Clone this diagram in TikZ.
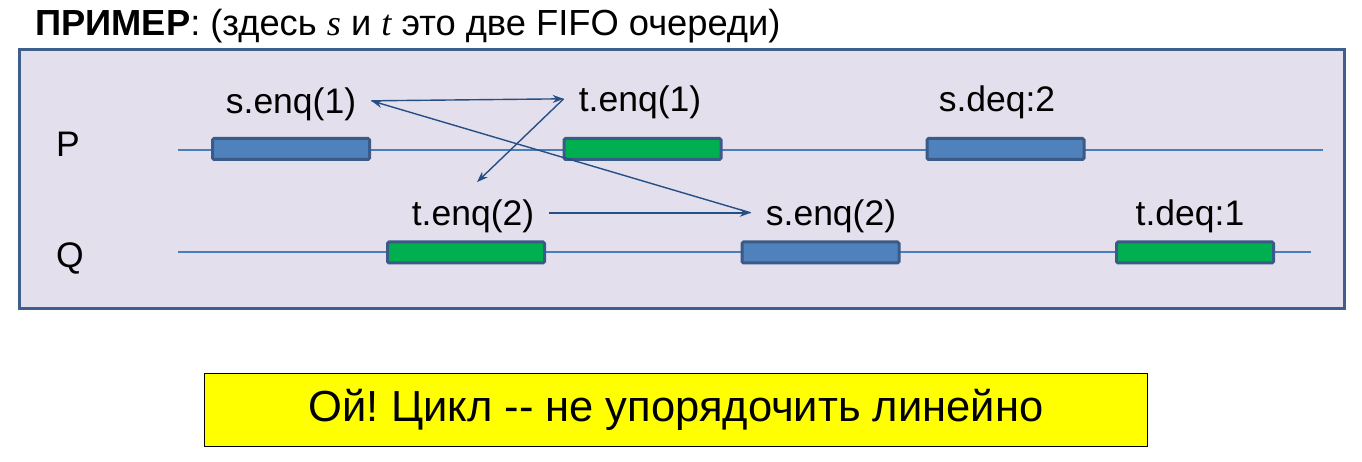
\documentclass[tikz,border=0pt]{standalone}
\usepackage{fontspec}
\setmainfont{Liberation Sans}
\newfontfamily\nolig{Liberation Sans}
\newfontfamily\varserif{Liberation Serif}
\usetikzlibrary{arrows.meta}
\definecolor{framefill}{HTML}{E4DFEC}
\definecolor{frameborder}{HTML}{3E5F8A}
\definecolor{tline}{HTML}{4A7EBB}
\definecolor{barborder}{HTML}{3A5A87}
\definecolor{barblue}{HTML}{4F81BD}
\definecolor{bargreen}{HTML}{00B050}
\definecolor{arrcol}{HTML}{254F85}
\definecolor{yel}{HTML}{FFFF00}
\frenchspacing
\begin{document}
\begin{tikzpicture}[x=1pt,y=-1pt,
  lbl/.style={anchor=base,font=\fontsize{35.5}{40}\selectfont,inner xsep=15pt,inner ysep=2pt},
  proc/.style={anchor=base,font=\fontsize{35.5}{40}\selectfont},
  bar/.style={draw=barborder,line width=3pt,rounded corners=1.5pt,minimum width=157pt,minimum height=21pt,inner sep=0pt},
  bluebar/.style={bar,fill=barblue},
  greenbar/.style={bar,fill=bargreen},
  tl/.style={draw=tline,line width=1.3pt},
  arr/.style={draw=arrcol,line width=1.4pt,-{Stealth[length=11pt,width=8pt]}}
]
\useasboundingbox (0,0) rectangle (1362,462);
\fill[white] (0,0) rectangle (1362,462);
% title
\node[anchor=base west,inner sep=0pt,font=\fontsize{36.3}{40}\selectfont] (title) at (35,36)
  {\textbf{ПРИМЕР}: (здесь {\varserif\itshape s} и {\varserif\itshape t} это две FIFO очереди)};
% frame
\node[draw=frameborder,fill=framefill,line width=3pt,minimum width=1325pt,minimum height=259pt,inner sep=0pt] (frame) at (682,179) {};
% process labels
\node[proc] (P) at (68,157) {P};
\node[proc] (Q) at (70,268) {Q};
% timelines
\coordinate (pl0) at (178,150);
\coordinate (pl1) at (1323,150);
\coordinate (ql0) at (178,252);
\coordinate (ql1) at (1311,252);
\draw[tl] (pl0) -- (pl1);
\draw[tl] (ql0) -- (ql1);
% bars
\node[bluebar] (pb1) at (291,149) {};
\node[greenbar] (pb2) at (642.5,149) {};
\node[bluebar] (pb3) at (1005.5,149) {};
\node[greenbar] (qb1) at (466,252.5) {};
\node[bluebar] (qb2) at (820.5,252.5) {};
\node[greenbar] (qb3) at (1195,252.5) {};
% labels
\node[lbl] (s1) at (291,114) {s.enq(1)};
\node[lbl] (t1) at (640,112) {t.enq(1)};
\node[lbl] (sd) at (997,112) {s.deq:2};
\node[lbl] (t2) at (473,226) {t.enq(2)};
\node[lbl] (s2) at (831,226) {s.enq(2)};
\node[lbl] (td) at (1190,226) {t.deq:1};
% arrows
\draw[arr] ([yshift=4pt]s1.east) -- ([yshift=4pt]t1.west);
\draw[arr] ([yshift=4pt]t1.west) -- ([shift={(4,-16)}]t2.north);
\draw[arr] ([yshift=4pt]t2.east) -- ([yshift=4pt]s2.west);
\draw[arr] ([yshift=4pt]s2.west) -- ([yshift=4pt]s1.east);
% bottom box
\node[draw=black,fill=yel,line width=1pt,minimum width=943pt,minimum height=73pt,inner sep=0pt,
  font=\nolig\fontsize{43.5}{48}\selectfont] (oops) at (676,410) {Ой! Цикл -- не упорядочить линейно};
\end{tikzpicture}
\end{document}
